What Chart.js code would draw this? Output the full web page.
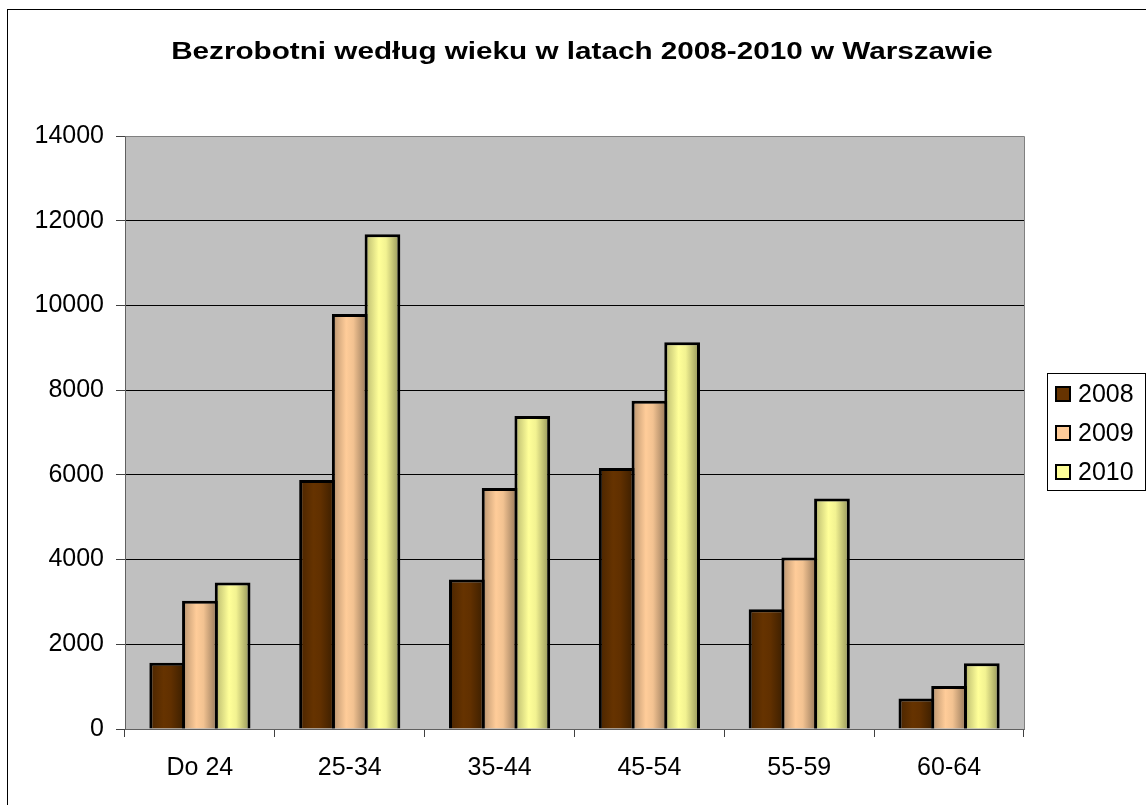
<!DOCTYPE html>
<html>
<head>
<meta charset="utf-8">
<script src="https://cdn.jsdelivr.net/npm/chart.js@4/dist/chart.umd.min.js"></script>
<style>
  html, body { margin: 0; padding: 0; background: #fff; }
  #wrap { width: 1146px; height: 805px; position: relative; }
</style>
</head>
<body>
<div id="wrap"><canvas id="c" width="1146" height="805"></canvas></div>
<script>
const TITLE = 'Bezrobotni według wieku w latach 2008-2010 w Warszawie';
const categories = ['Do 24', '25-34', '35-44', '45-54', '55-59', '60-64'];
const seriesLabels = ['2008', '2009', '2010'];
const values2008 = [1565, 5880, 3530, 6160, 2830, 720];
const values2009 = [3025, 9800, 5690, 7750, 4050, 1015];
const values2010 = [3460, 11680, 7390, 9130, 5440, 1550];
const yTicks = [0, 2000, 4000, 6000, 8000, 10000, 12000, 14000];
const seriesColors = ['#663300', '#FFCC99', '#FFFF99'];

const FONT = '"Liberation Sans", Arial, sans-serif';

function shade(hex, f) {
  const n = parseInt(hex.slice(1), 16);
  const r = Math.round(((n >> 16) & 255) * f);
  const g = Math.round(((n >> 8) & 255) * f);
  const b = Math.round((n & 255) * f);
  return `rgb(${r},${g},${b})`;
}

const gradientPlugin = {
  id: 'barGradient',
  beforeDatasetsDraw(chart) {
    const ctx = chart.ctx;
    chart.data.datasets.forEach((ds, di) => {
      const meta = chart.getDatasetMeta(di);
      const base = seriesColors[di];
      meta.data.forEach(el => {
        const w = el.width;
        const g = ctx.createLinearGradient(el.x - w / 2, 0, el.x + w / 2, 0);
        g.addColorStop(0, shade(base, 0.62));
        g.addColorStop(0.12, shade(base, 0.8));
        g.addColorStop(0.4, shade(base, 1.0));
        g.addColorStop(0.6, shade(base, 0.95));
        g.addColorStop(0.88, shade(base, 0.68));
        g.addColorStop(1, shade(base, 0.55));
        el.options = Object.assign({}, el.options, { backgroundColor: g });
      });
    });
  }
};

const framePlugin = {
  id: 'frame',
  beforeDraw(chart) {
    const ctx = chart.ctx;
    const a = chart.chartArea;
    ctx.save();
    ctx.fillStyle = '#ffffff';
    ctx.fillRect(0, 0, chart.width, chart.height);
    ctx.strokeStyle = '#000';
    ctx.lineWidth = 1;
    ctx.strokeRect(7.5, 9.5, 3000, 3000);
    ctx.fillStyle = '#C0C0C0';
    ctx.fillRect(a.left, a.top, a.right - a.left, a.bottom - a.top);
    ctx.restore();
  },
  afterDraw(chart) {
    const ctx = chart.ctx;
    const a = chart.chartArea;
    ctx.save();
    // plot border top/right
    ctx.strokeStyle = '#808080';
    ctx.lineWidth = 1;
    ctx.beginPath();
    ctx.moveTo(Math.round(a.left) + 0.5, Math.round(a.top) + 0.5);
    ctx.lineTo(Math.round(a.right) + 0.5, Math.round(a.top) + 0.5);
    ctx.lineTo(Math.round(a.right) + 0.5, Math.round(a.bottom) + 0.5);
    ctx.stroke();
    // title (reference text is horizontally stretched)
    ctx.save();
    ctx.fillStyle = '#000';
    ctx.font = 'bold 23px ' + FONT;
    ctx.textAlign = 'center';
    ctx.textBaseline = 'alphabetic';
    ctx.translate(582, 59);
    ctx.scale(1.29, 1);
    ctx.fillText(TITLE, 0, 0);
    ctx.restore();
    // legend
    ctx.strokeStyle = '#000';
    ctx.lineWidth = 1;
    ctx.strokeRect(1047.5, 373.5, 98, 117);
    ctx.font = '25px ' + FONT;
    ctx.textAlign = 'left';
    ctx.textBaseline = 'middle';
    seriesLabels.forEach((lab, i) => {
      const cy = 394 + i * 39;
      ctx.fillStyle = seriesColors[i];
      ctx.fillRect(1056, cy - 7, 14, 14);
      ctx.lineWidth = 2;
      ctx.strokeStyle = '#000';
      ctx.strokeRect(1056, cy - 7, 14, 14);
      ctx.fillStyle = '#000';
      ctx.fillText(lab, 1078, cy + 1);
    });
    ctx.restore();
  }
};

const seriesValues = [values2008, values2009, values2010];

new Chart(document.getElementById('c'), {
  type: 'bar',
  data: {
    labels: categories,
    datasets: seriesLabels.map((lab, i) => ({
      label: lab,
      data: seriesValues[i],
      backgroundColor: seriesColors[i],
      borderColor: '#000',
      borderWidth: 3,
      categoryPercentage: 0.655,
      barPercentage: 1.092
    }))
  },
  options: {
    responsive: false,
    animation: false,
    devicePixelRatio: 1,
    layout: { padding: { top: 136, right: 122, left: 0, bottom: 0 } },
    plugins: {
      legend: { display: false },
      title: { display: false },
      tooltip: { enabled: false }
    },
    scales: {
      x: {
        grid: {
          offset: true,
          drawOnChartArea: false,
          drawTicks: true,
          tickLength: 8,
          tickColor: '#404040'
        },
        border: { display: true, color: '#606060', width: 1 },
        ticks: { color: '#000', font: { family: FONT, size: 25 }, padding: 16 },
        afterFit(scale) { scale.height = 76; }
      },
      y: {
        min: 0,
        max: 14000,
        afterBuildTicks(scale) { scale.ticks = yTicks.map(v => ({ value: v })); },
        grid: {
          color: ctx => (ctx.tick && (ctx.tick.value === 0 || ctx.tick.value === 14000)) ? '#808080' : '#000000',
          lineWidth: 1,
          tickLength: 9,
          tickColor: '#404040'
        },
        border: { display: true, color: '#606060', width: 1 },
        ticks: {
          color: '#000',
          font: { family: FONT, size: 25 },
          padding: 12,
          callback: v => String(v)
        },
        afterFit(scale) { scale.width = 125; }
      }
    }
  },
  plugins: [framePlugin, gradientPlugin]
});
</script>
</body>
</html>
